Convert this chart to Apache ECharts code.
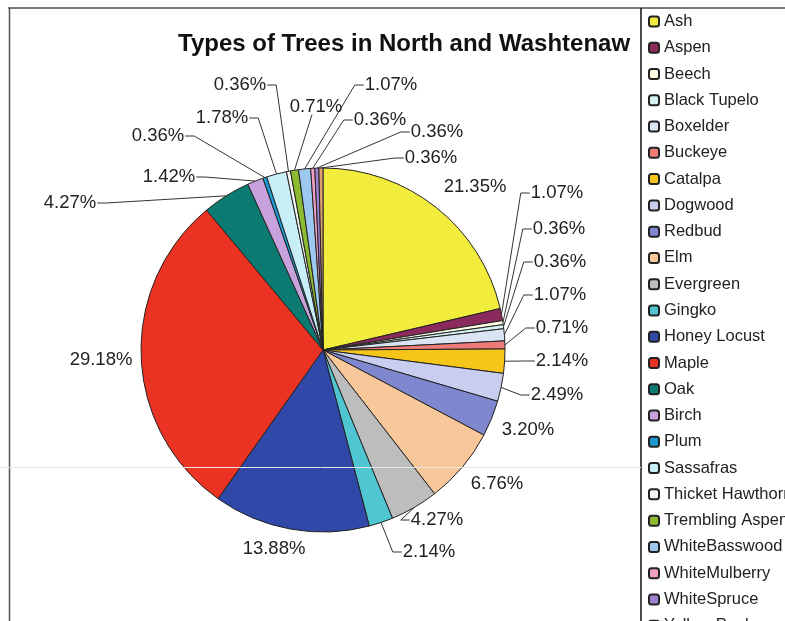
<!DOCTYPE html>
<html><head><meta charset="utf-8">
<script src="https://cdn.jsdelivr.net/npm/echarts@6/dist/echarts.min.js"></script>
<style>html,body{margin:0;padding:0;background:#fff}#c{width:785px;height:621px}</style>
</head><body><div id="c"></div>
<script>
const categories = ['Ash','Aspen','Beech','Black Tupelo','Boxelder','Buckeye','Catalpa','Dogwood','Redbud','Elm','Evergreen','Gingko','Honey Locust','Maple','Oak','Birch','Plum','Sassafras','Thicket Hawthorn','Trembling Aspen','WhiteBasswood','WhiteMulberry','WhiteSpruce','Yellow Poplar'];
const percents = [21.35,1.07,0.36,0.36,1.07,0.71,2.14,2.49,3.20,6.76,4.27,2.14,13.88,29.18,4.27,1.42,0.36,1.78,0.36,0.71,1.07,0.36,0.36,0.36];
const colors = ['#f2ec3c','#8b2a5c','#fdfbe0','#d6f2f2','#dbe4f2','#ef7b78','#f6c51a','#c9cdf0','#7f87cf','#f8c89a','#bdbdbd','#50c6d2','#3048a8','#ea3323','#0b7b72','#c8a2dc','#1a9ad0','#c8eef8','#f4f4f0','#8cba30','#9cc8f0','#f0a0c0','#a080d0','#e0a070'];
const chartTitle = 'Types of Trees in North and Washtenaw';

// hand-placed label anchors (label centres), Excel-style leader layout
const labelPlacement = {
  'Ash':[475,187],'Aspen':[557,193],'Beech':[559,229],'Black Tupelo':[560,262],'Boxelder':[560,295],
  'Buckeye':[562,328],'Catalpa':[562,361],'Dogwood':[557,395],'Redbud':[528,430],'Elm':[497,484],
  'Evergreen':[437,520],'Gingko':[429,552],'Honey Locust':[274,549],'Maple':[101,360],'Oak':[70,203],
  'Birch':[169,177],'Plum':[158,136],'Sassafras':[222,118],'Thicket Hawthorn':[240,85],
  'Trembling Aspen':[316,107],'WhiteBasswood':[391,85],'WhiteMulberry':[380,120],
  'WhiteSpruce':[437,132],'Yellow Poplar':[431,158]
};
const noLeader = ['Ash','Redbud','Elm','Honey Locust','Maple'];

const chart = echarts.init(document.getElementById('c'), null, {renderer:'canvas'});
chart.setOption({
  animation:false,
  color: colors,
  title:{text:chartTitle,left:173,top:27,textStyle:{fontFamily:'Liberation Sans, Arial',fontSize:24,fontWeight:'bold',color:'#111'}},
  legend:{orient:'vertical',left:648,top:13,padding:0,height:800,itemWidth:10,itemHeight:10,itemGap:9.27,
    textStyle:{fontFamily:'Liberation Sans, Arial',fontSize:16.5,lineHeight:16,color:'#222'},
    data:categories},
  graphic:[
    {type:'line',shape:{x1:8,y1:8,x2:785,y2:8},style:{stroke:'#777',lineWidth:2},z:10},
    {type:'line',shape:{x1:9.5,y1:8,x2:9.5,y2:621},style:{stroke:'#555',lineWidth:1.5},z:10},
    {type:'line',shape:{x1:641,y1:8,x2:641,y2:621},style:{stroke:'#111',lineWidth:1.5},z:10},
    {type:'line',shape:{x1:0,y1:467.5,x2:641,y2:467.5},style:{stroke:'#e6e6e6',lineWidth:1},z:10}
  ],
  series:[{
    type:'pie',center:[323,350],radius:182,startAngle:90,clockwise:true,
    itemStyle:{borderColor:'#222',borderWidth:1},
    label:{show:true,position:'outside',formatter:p=>p.value.toFixed(2)+'%',fontFamily:'Liberation Sans, Arial',fontSize:18.5,color:'#222'},
    labelLine:{show:true,length:10,length2:10,lineStyle:{color:'#333',width:1}},
    labelLayout:function(params){
      const name = categories[params.dataIndex];
      const pos = labelPlacement[name];
      const out = {x:pos[0],y:pos[1],align:'center',verticalAlign:'middle'};
      const pts = params.labelLinePoints;
      if (pts && noLeader.indexOf(name) < 0) {
        const arc = pts[0];
        const hw = params.labelRect.width/2, hh = params.labelRect.height/2;
        let p1, p2;
        if (Math.abs(pos[0]-arc[0]) < hw && arc[1] > pos[1] + hh) {
          p2 = [pos[0]-4, pos[1]+hh-2]; p1 = p2;
        } else if (pos[0] >= arc[0]) {
          p2 = [pos[0]-hw-1, pos[1]]; p1 = [p2[0]-9, pos[1]];
        } else {
          p2 = [pos[0]+hw+1, pos[1]]; p1 = [p2[0]+9, pos[1]];
        }
        out.labelLinePoints = [arc, p1, p2];
      }
      return out;
    },
    emphasis:{disabled:true},
    data:categories.map((n,i)=>({name:n,value:percents[i],
      labelLine:{show:noLeader.indexOf(n)<0}}))
  }]
});
</script></body></html>
